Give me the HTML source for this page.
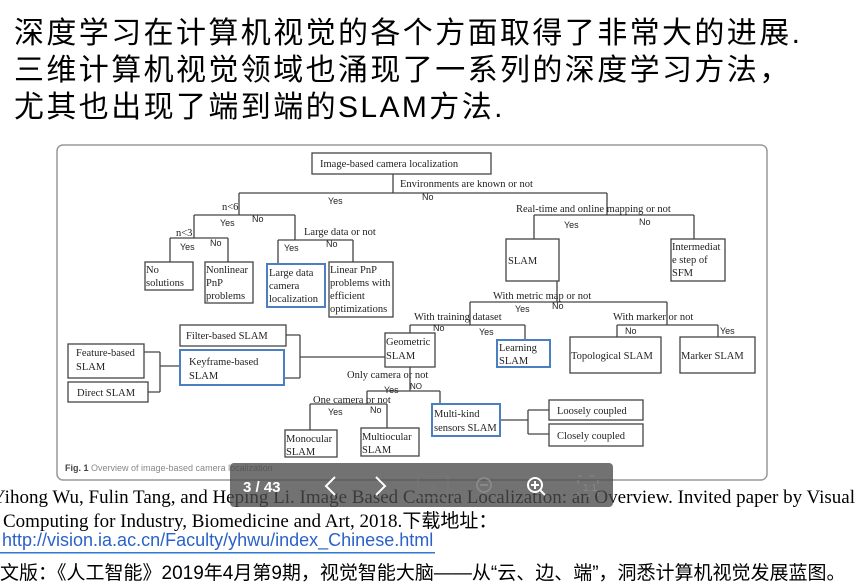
<!DOCTYPE html>
<html><head><meta charset="utf-8"><style>
body{margin:0;width:864px;height:588px;background:#fff;overflow:hidden;position:relative;font-family:"Liberation Sans","Noto Sans CJK SC",sans-serif}
.t{position:absolute;left:14px;font-size:30px;letter-spacing:2.4px;color:#000;white-space:nowrap}
svg{position:absolute;left:0;top:0}
</style></head><body>
<div class="t" style="top:8px">深度学习在计算机视觉的各个方面取得了非常大的进展.</div>
<div class="t" style="top:45px">三维计算机视觉领域也涌现了一系列的深度学习方法，</div>
<div class="t" style="top:82px">尤其也出现了端到端的SLAM方法.</div>
<svg width="864" height="588" viewBox="0 0 864 588" font-family="Liberation Serif,serif" font-size="10.5">
<rect x="57" y="145" width="710" height="335" rx="6" fill="#fff" stroke="#999" stroke-width="1.5"/>
<g fill="none" stroke="#444" stroke-width="1.3">
<rect x="312" y="153" width="179" height="21"/>
<path d="M393 174V193M239 193H607M239 193V215M194 215H295M194 215V238M170 238H228M170 238V262M228 238V262M295 215V240M278 240H353M278 240V264M353 240V262"/>
<rect x="145" y="262" width="48" height="28"/><rect x="205" y="262" width="48" height="41"/>
<rect x="329" y="262" width="64" height="55"/>
<path d="M607 193V215M534 215H694M534 215V239M694 215V239M557 281V302M470 302H667M667 302V325M617 325H718M617 325V337M718 325V337M470 302V325M410 325H525M410 325V333M525 325V340"/>
<rect x="506" y="239" width="53" height="42"/><rect x="671" y="239" width="54" height="42"/>
<rect x="570" y="337" width="91" height="36"/><rect x="680" y="337" width="75" height="36"/>
<rect x="385" y="333" width="50" height="34"/>
<rect x="180" y="325" width="106" height="21"/>
<rect x="68" y="344" width="76" height="34"/><rect x="68" y="382" width="80" height="20"/>
<path d="M144 352H160M148 392H160M160 352V392M160 366H180M286 335H300M284 378H300M300 335V378M300 357H385"/>
<path d="M410 367V391M367 391H440M440 391V404M367 391V404M310 404H387M310 404V430M387 404V428M500 420H528M528 410V434M528 410H549M528 434H549"/>
<rect x="285" y="430" width="52" height="27"/><rect x="361" y="428" width="58" height="28"/>
<rect x="549" y="400" width="94" height="20"/><rect x="549" y="424" width="94" height="22"/>
</g>
<g fill="none" stroke="#4a7fc1" stroke-width="2">
<rect x="267" y="264" width="58" height="43"/><rect x="497" y="340" width="53" height="27"/>
<rect x="180" y="350" width="104" height="35"/><rect x="432" y="404" width="68" height="32"/>
</g>
<g fill="#222">
<text x="320" y="167">Image-based camera localization</text>
<text x="400" y="187">Environments are known or not</text>
<text x="328" y="204" font-family="Liberation Sans" font-size="9">Yes</text><text x="422" y="200" font-family="Liberation Sans" font-size="9">No</text>
<text x="222" y="210">n&lt;6</text><text x="220" y="226" font-family="Liberation Sans" font-size="9">Yes</text><text x="252" y="222" font-family="Liberation Sans" font-size="9">No</text>
<text x="176" y="236">n&lt;3</text><text x="180" y="250" font-family="Liberation Sans" font-size="9">Yes</text><text x="210" y="246" font-family="Liberation Sans" font-size="9">No</text>
<text x="304" y="235">Large data or not</text><text x="284" y="251" font-family="Liberation Sans" font-size="9">Yes</text><text x="326" y="247" font-family="Liberation Sans" font-size="9">No</text>
<text x="146" y="273">No</text><text x="146" y="286">solutions</text>
<text x="206" y="273">Nonlinear</text><text x="206" y="286">PnP</text><text x="206" y="299">problems</text>
<text x="269" y="276">Large data</text><text x="269" y="289">camera</text><text x="269" y="302">localization</text>
<text x="330" y="273">Linear   PnP</text><text x="330" y="286">problems with</text><text x="330" y="299">efficient</text><text x="330" y="312">optimizations</text>
<text x="516" y="212">Real-time and online mapping or not</text>
<text x="564" y="228" font-family="Liberation Sans" font-size="9">Yes</text><text x="639" y="225" font-family="Liberation Sans" font-size="9">No</text>
<text x="508" y="264">SLAM</text>
<text x="672" y="250">Intermediat</text><text x="672" y="263">e  step  of</text><text x="672" y="276">SFM</text>
<text x="493" y="299">With metric map or not</text>
<text x="515" y="312" font-family="Liberation Sans" font-size="9">Yes</text><text x="552" y="309" font-family="Liberation Sans" font-size="9">No</text>
<text x="613" y="320">With marker or not</text>
<text x="625" y="334" font-family="Liberation Sans" font-size="9">No</text><text x="720" y="334" font-family="Liberation Sans" font-size="9">Yes</text>
<text x="571" y="359">Topological SLAM</text><text x="681" y="359">Marker SLAM</text>
<text x="414" y="320">With training dataset</text>
<text x="433" y="331" font-family="Liberation Sans" font-size="9">No</text><text x="479" y="335" font-family="Liberation Sans" font-size="9">Yes</text>
<text x="386" y="345">Geometric</text><text x="386" y="359">SLAM</text>
<text x="499" y="351">Learning</text><text x="499" y="364">SLAM</text>
<text x="186" y="339">Filter-based SLAM</text>
<text x="189" y="365">Keyframe-based</text><text x="189" y="379">SLAM</text>
<text x="76" y="356">Feature-based</text><text x="76" y="370">SLAM</text>
<text x="77" y="396">Direct SLAM</text>
<text x="347" y="378">Only camera or not</text>
<text x="384" y="393" font-family="Liberation Sans" font-size="9">Yes</text><text x="410" y="389" font-family="Liberation Sans" font-size="8">NO</text>
<text x="313" y="403">One camera or not</text>
<text x="328" y="415" font-family="Liberation Sans" font-size="9">Yes</text><text x="370" y="413" font-family="Liberation Sans" font-size="9">No</text>
<text x="434" y="417">Multi-kind</text><text x="434" y="431">sensors SLAM</text>
<text x="286" y="442">Monocular</text><text x="286" y="455">SLAM</text>
<text x="362" y="440">Multiocular</text><text x="362" y="453">SLAM</text>
<text x="557" y="414">Loosely coupled</text><text x="557" y="439">Closely coupled</text>
</g>
<text x="65" y="471" font-family="Liberation Sans" font-size="9" fill="#888"><tspan font-weight="bold" fill="#444">Fig. 1</tspan> Overview of image-based camera localization</text>
<g font-family="Liberation Serif,serif" font-size="19" fill="#000">
<text x="-8" y="503">Yihong Wu, Fulin Tang, and Heping Li.  Image Based Camera Localization: an Overview. Invited paper by Visual</text>
<text x="3" y="527">Computing for Industry, Biomedicine and Art, 2018.<tspan font-family="Noto Sans CJK SC">下载地址：</tspan></text>
</g>
<text x="2" y="546" font-family="Liberation Sans,sans-serif" font-size="18" fill="#2a62c9">http://vision.ia.ac.cn/Faculty/yhwu/index_Chinese.html</text>
<rect x="0" y="552" width="435" height="1.5" fill="#2a7ad0"/>
<text x="0" y="579" font-family="Liberation Sans,Noto Sans CJK SC,sans-serif" font-size="19" fill="#000">文版：《人工智能》2019年4月第9期，视觉智能大脑——从“云、边、端”，洞悉计算机视觉发展蓝图。</text>
<rect x="230" y="463" width="383" height="44" rx="4" fill="#4a4a4a" fill-opacity="0.78"/>
<text x="243" y="492" font-family="Liberation Sans" font-size="15" font-weight="bold" fill="#fff">3 / 43</text>
<g fill="none" stroke="#fff" stroke-width="2"><path d="M335 477L326 486L335 495"/><path d="M376 477L385 486L376 495"/></g>
<rect x="418" y="476" width="30" height="22" fill="none" stroke="#777"/>
<text x="429" y="492" font-size="11" fill="#777" font-family="Liberation Sans">3</text>
<circle cx="484" cy="485" r="7" fill="none" stroke="#888" stroke-width="2"/><path d="M480 485H488" stroke="#888" stroke-width="2"/>
<circle cx="535" cy="485" r="7" fill="none" stroke="#fff" stroke-width="2"/><path d="M531 485H539M535 481V489M540 490L545 495" stroke="#fff" stroke-width="2"/>
<rect x="578" y="476" width="20" height="20" fill="none" stroke="#888" stroke-dasharray="4 8"/>
<text x="583" y="491" font-size="10" fill="#888" font-family="Liberation Sans">1:1</text>
</svg>
</body></html>
